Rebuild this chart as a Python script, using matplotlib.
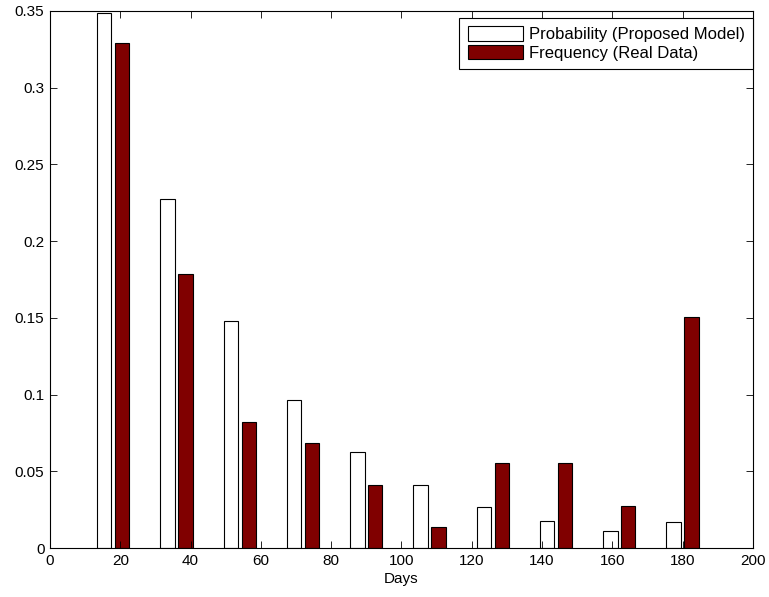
import numpy as np
import matplotlib.pyplot as plt
from matplotlib.ticker import FuncFormatter

plt.rcParams['font.family'] = ['Liberation Sans', 'DejaVu Sans']

# groups of days (bar group centres)
days = [18, 36, 54, 72, 90, 108, 126, 144, 162, 180]
# probability from proposed model
prob_model = [0.349, 0.2275, 0.148, 0.0964, 0.0627, 0.041, 0.0268, 0.0174, 0.0114, 0.0168]
# frequency from real data
freq_real = [0.3294, 0.1785, 0.0823, 0.0686, 0.0414, 0.014, 0.0551, 0.0551, 0.0277, 0.1507]

x = np.array(days, dtype=float)
w = 4.1
off = 2.55

fig = plt.figure(figsize=(7.69, 5.97), dpi=100)
ax = fig.add_axes([0.065, 0.082, 0.914, 0.8996])

ax.bar(x - off, prob_model, width=w, color='white', edgecolor='black', linewidth=0.8,
       label='Probability (Proposed Model)')
ax.bar(x + off, freq_real, width=w, color='#800000', edgecolor='black', linewidth=0.8,
       label='Frequency (Real Data)')

ax.set_xlim(0, 200)
ax.set_ylim(0, 0.35)
ax.set_xticks(np.arange(0, 201, 20))
ax.set_yticks(np.arange(0, 0.351, 0.05))
ax.yaxis.set_major_formatter(FuncFormatter(lambda v, p: '%g' % round(v, 2)))
ax.tick_params(direction='in', top=True, right=True, length=5, width=0.6,
               labelsize=11, pad=4)
for s in ax.spines.values():
    s.set_linewidth(0.8)
ax.set_xlabel('Days', fontsize=11, labelpad=3)

leg = ax.legend(loc='upper right', bbox_to_anchor=(1.0, 0.987), fontsize=12,
                fancybox=False, edgecolor='black', framealpha=1, borderaxespad=0,
                handlelength=3.3, handleheight=0.95, handletextpad=0.35,
                labelspacing=0.15, borderpad=0.5)
leg.get_frame().set_linewidth(0.8)

fig.savefig('out.png', dpi=100)
